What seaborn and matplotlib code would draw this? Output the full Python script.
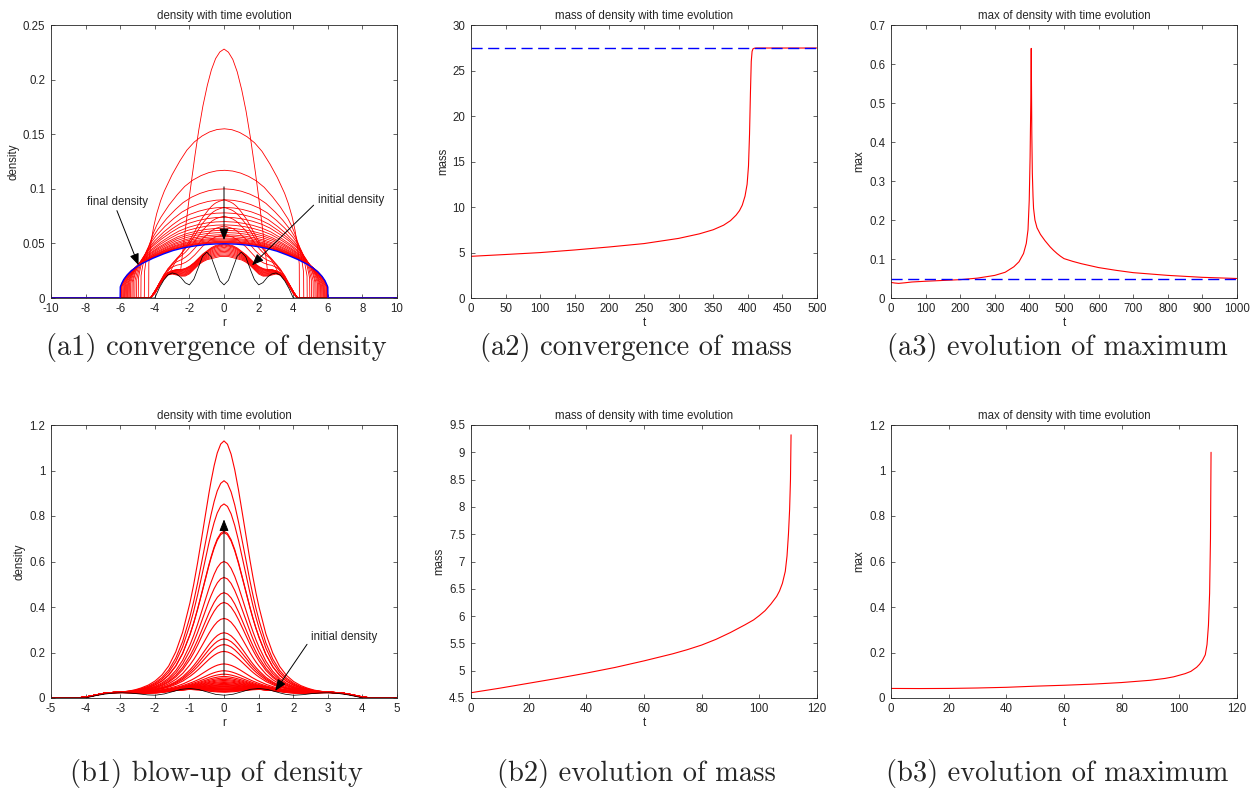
import numpy as np
import pandas as pd
import matplotlib
matplotlib.use("Agg")
import matplotlib.pyplot as plt
import seaborn as sns
from matplotlib.ticker import FormatStrFormatter

# ---------------- data ----------------
# initial density (used in a1 and b1), half profile r >= 0
INIT_R = [0, .25, .5, .75, 1, 1.25, 1.5, 1.75, 2, 2.25, 2.5, 2.75, 3, 3.25, 3.5, 3.75, 4.0, 4.25]
INIT_RHO = [.012, .016, .027, .038, .042, .038, .027, .017, .012, .014, .019, .022, .023, .021, .016, .009, 0, 0]

# a1: early curves, from the first red profile to a merged hump
A1_EARLY_START = [.038, .038, .037, .036, .035, .033, .030, .026, .022, .020, .020, .021, .022, .021, .017, .011, .004, 0]
A1_MERGED = [.050, .049, .048, .046, .043, .040, .036, .032, .029, .027, .026, .026, .025, .023, .019, .013, .006, 0]
A1_EARLY_MIX = [0, .1, .2, .3, .4, .5, .6, .7, .8, .88, .94, 1.0]
# a1: growing humps (shape of the tall curve, normalised)
GROW_S = [0, .1, .2, .3, .4, .5, .6, .7, .8, .9, .95, 1.0]
GROW_SHAPE = [1, .99, .96, .91, .84, .75, .64, .51, .36, .19, .10, 0]
A1_GROW_PEAK = [.058, .066, .075, .083, .090, .228]
A1_GROW_RAD = [3.9, 3.7, 3.5, 3.3, 3.1, 2.5]
# a1: spreading arches converging to the final density
ARCH_S = [0, .1, .2, .3, .4, .5, .6, .7, .8, .85, .9, .94, .97, .99, 1.0, 1.0001]
ARCH_SHAPE = [1, .995, .98, .955, .92, .87, .80, .72, .625, .565, .49, .41, .33, .25, .2, 0]
A1_DECAY_PEAK = [.155, .117, .100, .090, .083, .078, .074, .070, .067, .064, .062,
                 .060, .058, .0565, .055, .054, .053, .052, .0515, .051, .0505]
A1_DECAY_RAD = [4.35, 4.6, 4.8, 4.95, 5.05, 5.15, 5.25, 5.32, 5.4, 5.47, 5.53,
                5.58, 5.64, 5.7, 5.75, 5.8, 5.85, 5.9, 5.93, 5.96, 5.98]
A1_FINAL_PEAK = 0.0497
A1_FINAL_RAD = 6.0

# a2: mass, converging case
A2_T = [0, 50, 100, 150, 200, 250, 300, 330, 350, 365, 375, 383, 388, 392, 396, 399, 401,
        402.5, 403.8, 405, 406.2, 407.5, 409.5, 413, 450, 500]
A2_M = [4.58, 4.78, 4.99, 5.28, 5.61, 5.98, 6.55, 7.05, 7.5, 8.0, 8.5, 9.1, 9.6, 10.2, 11.2,
        12.5, 14.5, 18.0, 22.5, 26.0, 27.1, 27.38, 27.45, 27.47, 27.47, 27.47]
A2_LIMIT = 27.47

# a3: max, converging case
A3_T = [0, 10, 22, 40, 60, 100, 150, 200, 250, 300, 330, 355, 370, 383, 391, 396, 399.5, 402,
        404, 405.3, 406, 407, 408.5, 410.5, 412, 416, 422, 432, 445, 460, 470, 480, 490, 500,
        525, 550, 600, 650, 700, 800, 900, 1000]
A3_MAX = [.040, .0385, .0375, .039, .041, .043, .045, .047, .051, .058, .066, .080, .093, .114,
          .140, .175, .25, .36, .50, .64, .55, .42, .32, .26, .23, .20, .18, .163, .147, .131,
          .122, .114, .107, .101, .094, .088, .078, .071, .065, .058, .053, .050]
A3_LIMIT = 0.0495

# b1: blow-up case
B1_EARLY_START = [.025, .027, .031, .036, .038, .036, .031, .025, .021, .020, .021, .023, .024, .023, .019, .011, .003, 0]
B1_BASE = [.045, .044, .043, .041, .039, .036, .033, .030, .028, .026, .025, .025, .025, .024, .020, .012, .004, 0]
B1_EARLY_MIX = [0, .15, .3, .45, .6, .75, .9, 1.0]
BELL_R = [0, .1, .2, .3, .4, .5, .6, .7, .8, .9, 1.0, 1.2, 1.4, 1.6, 1.8, 2.0, 2.2, 2.4, 2.6, 2.8, 3.0]
BELL = [1, .987, .95, .892, .819, .736, .649, .562, .48, .405, .339, .23, .153, .10, .065,
        .042, .027, .017, .009, .004, 0]
B1_PEAK = [1.13, .955, .853, .733, .727, .60, .53, .463, .42, .35, .287, .26, .235, .205, .15,
           .12, .105, .095, .088, .082, .077, .072, .068, .064, .06, .057, .054, .051, .048]

# b2 / b3: mass and max, blow-up case
B2_T = [0, 10, 20, 30, 40, 50, 60, 65, 70, 75, 80, 85, 90, 95, 98, 100, 102, 104, 106, 107,
        108, 109, 109.6, 110.1, 110.5, 110.8, 111.0]
B2_M = [4.597, 4.68, 4.77, 4.86, 4.956, 5.06, 5.18, 5.245, 5.31, 5.385, 5.47, 5.575, 5.70,
        5.84, 5.93, 6.01, 6.10, 6.22, 6.36, 6.46, 6.6, 6.82, 7.1, 7.5, 7.95, 8.5, 9.32]
B3_T = [0, 10, 20, 30, 40, 50, 60, 70, 80, 85, 90, 95, 98, 100, 102, 104, 106, 107, 108, 109,
        109.6, 110.1, 110.5, 110.8, 111.0]
B3_MAX = [.042, .0415, .042, .044, .047, .052, .056, .061, .068, .073, .078, .086, .093, .10,
          .107, .117, .135, .148, .165, .19, .235, .32, .46, .70, 1.08]

CAPTIONS = ["(a1) convergence of density", "(a2) convergence of mass", "(a3) evolution of maximum",
            "(b1) blow-up of density", "(b2) evolution of mass", "(b3) evolution of maximum"]

# ---------------- style ----------------
FS = 8.3
sns.set_style("ticks")
plt.rcParams.update({
    "font.family": ["Liberation Sans", "DejaVu Sans"],
    "font.size": FS,
    "axes.unicode_minus": False,
    "axes.edgecolor": "#262626",
    "axes.linewidth": 0.6,
    "axes.labelcolor": "#262626",
    "xtick.direction": "in", "ytick.direction": "in",
    "xtick.top": True, "ytick.right": True,
    "xtick.bottom": True, "ytick.left": True,
    "xtick.major.size": 3, "ytick.major.size": 3,
    "xtick.major.width": 0.5, "ytick.major.width": 0.5,
    "xtick.color": "#262626", "ytick.color": "#262626",
    "xtick.labelsize": FS, "ytick.labelsize": FS,
    "xtick.major.pad": 3.6, "ytick.major.pad": 4.2,
})

RED, BLUE = "#ff0000", "#0000ff"
W, H = 1253, 788
fig = plt.figure(figsize=(W / 100, H / 100), dpi=100)


def make_ax(col, row):
    x0 = [51, 471, 891][col]
    top = [25, 425][row]
    return fig.add_axes([x0 / W, 1 - (top + 273) / H, 346 / W, 273 / H])


def full(r_grid, r_half, v_half):
    return np.interp(np.abs(r_grid), r_half, v_half, right=0)


def shape(r_grid, rad, s_tab, v_tab):
    return np.interp(np.abs(r_grid) / rad, s_tab, v_tab, right=0)


def finish(ax, title, xlabel, ylabel, xlim, ylim, xticks, yticks):
    ax.set_xlim(*xlim)
    ax.set_ylim(*ylim)
    ax.set_xticks(xticks)
    ax.set_yticks(yticks)
    ax.xaxis.set_major_formatter(FormatStrFormatter("%g"))
    ax.yaxis.set_major_formatter(FormatStrFormatter("%g"))
    ax.set_title(title, fontsize=FS, pad=4)
    ax.set_xlabel(xlabel, labelpad=1.5)
    ax.set_ylabel(ylabel, labelpad=2.5)
    for s in ax.spines.values():
        s.set_visible(True)


arrow = dict(arrowstyle="-|>,head_length=0.7,head_width=0.28", color="k", lw=0.7,
             mutation_scale=10, shrinkA=0, shrinkB=0)

# ---------------- a1 ----------------
ax = make_ax(0, 0)
r = np.linspace(-10, 10, 4001)
init = full(r, INIT_R, INIT_RHO)
start = full(r, INIT_R, A1_EARLY_START)
merged = full(r, INIT_R, A1_MERGED)
frames = []
k = 0
for a in A1_EARLY_MIX:
    frames.append(pd.DataFrame({"r": r, "rho": (1 - a) * start + a * merged, "curve": k}))
    k += 1
for h, rad in zip(A1_GROW_PEAK, A1_GROW_RAD):
    rho = merged + (h - A1_MERGED[0]) * shape(r, rad, GROW_S, GROW_SHAPE)
    frames.append(pd.DataFrame({"r": r, "rho": rho, "curve": k}))
    k += 1
for h, rad in zip(A1_DECAY_PEAK, A1_DECAY_RAD):
    rho = h * shape(r, rad, ARCH_S, ARCH_SHAPE)
    frames.append(pd.DataFrame({"r": r, "rho": rho, "curve": k}))
    k += 1
df_a1 = pd.concat(frames)
sns.lineplot(data=df_a1, x="r", y="rho", units="curve", estimator=None, color=RED, lw=0.6,
             sort=False, ax=ax, legend=False)
sns.lineplot(x=r, y=init, color="k", lw=0.55, ax=ax)
final = A1_FINAL_PEAK * shape(r, A1_FINAL_RAD, ARCH_S, ARCH_SHAPE)
sns.lineplot(x=r, y=final, color=BLUE, lw=1.0, ax=ax)
ax.annotate("", xy=(-4.94, 0.030), xytext=(-6.19, 0.080), arrowprops=arrow)
ax.text(-7.92, 0.088, "final density", fontsize=FS, va="center", ha="left")
ax.annotate("", xy=(1.62, 0.030), xytext=(5.18, 0.085), arrowprops=arrow)
ax.text(5.43, 0.090, "initial density", fontsize=FS, va="center", ha="left")
ax.annotate("", xy=(0, 0.053), xytext=(0, 0.1018), arrowprops=arrow)
finish(ax, "density with time evolution", "r", "density", (-10, 10), (0, 0.25),
       range(-10, 11, 2), np.arange(0, 0.251, 0.05))

# ---------------- a2 ----------------
ax = make_ax(1, 0)
sns.lineplot(x=A2_T, y=A2_M, color=RED, lw=0.8, ax=ax)
ax.axhline(A2_LIMIT, color=BLUE, lw=1.0, ls=(0, (8, 4)))
finish(ax, "mass of density with time evolution", "t", "mass", (0, 500), (0, 30),
       range(0, 501, 50), range(0, 31, 5))

# ---------------- a3 ----------------
ax = make_ax(2, 0)
sns.lineplot(x=A3_T, y=A3_MAX, color=RED, lw=0.8, ax=ax)
ax.axhline(A3_LIMIT, color=BLUE, lw=1.0, ls=(0, (8, 4)))
finish(ax, "max of density with time evolution", "t", "max", (0, 1000), (0, 0.7),
       range(0, 1001, 100), np.arange(0, 0.71, 0.1))

# ---------------- b1 ----------------
ax = make_ax(0, 1)
r = np.linspace(-5, 5, 2001)
init = full(r, INIT_R, INIT_RHO)
start = full(r, INIT_R, B1_EARLY_START)
base = full(r, INIT_R, B1_BASE)
bell = full(r, BELL_R, BELL)
frames = []
k = 0
for a in B1_EARLY_MIX:
    frames.append(pd.DataFrame({"r": r, "rho": (1 - a) * start + a * base, "curve": k}))
    k += 1
for h in B1_PEAK:
    frames.append(pd.DataFrame({"r": r, "rho": base + (h - B1_BASE[0]) * bell, "curve": k}))
    k += 1
df_b1 = pd.concat(frames)
sns.lineplot(data=df_b1, x="r", y="rho", units="curve", estimator=None, color=RED, lw=0.8,
             sort=False, ax=ax, legend=False)
sns.lineplot(x=r, y=init, color="k", lw=0.55, ax=ax)
ax.annotate("", xy=(1.48, 0.031), xytext=(2.40, 0.236), arrowprops=arrow)
ax.text(2.51, 0.266, "initial density", fontsize=FS, va="center", ha="left")
ax.annotate("", xy=(0, 0.785), xytext=(0, 0.1), arrowprops=arrow)
finish(ax, "density with time evolution", "r", "density", (-5, 5), (0, 1.2),
       range(-5, 6), np.arange(0, 1.21, 0.2))

# ---------------- b2 ----------------
ax = make_ax(1, 1)
sns.lineplot(x=B2_T, y=B2_M, color=RED, lw=0.8, ax=ax)
finish(ax, "mass of density with time evolution", "t", "mass", (0, 120), (4.5, 9.5),
       range(0, 121, 20), np.arange(4.5, 9.51, 0.5))

# ---------------- b3 ----------------
ax = make_ax(2, 1)
sns.lineplot(x=B3_T, y=B3_MAX, color=RED, lw=0.8, ax=ax)
finish(ax, "max of density with time evolution", "t", "max", (0, 120), (0, 1.2),
       range(0, 121, 20), np.arange(0, 1.21, 0.2))

# ---------------- captions ----------------
for i, cap in enumerate(CAPTIONS):
    col, row = i % 3, i // 3
    xc = [216, 636, 1057][col]
    yc = [347, 773][row]
    fig.text(xc / W, 1 - yc / H, cap, fontfamily="cmr10", fontsize=20.5, ha="center", va="center")

fig.savefig("out.png", dpi=100)
